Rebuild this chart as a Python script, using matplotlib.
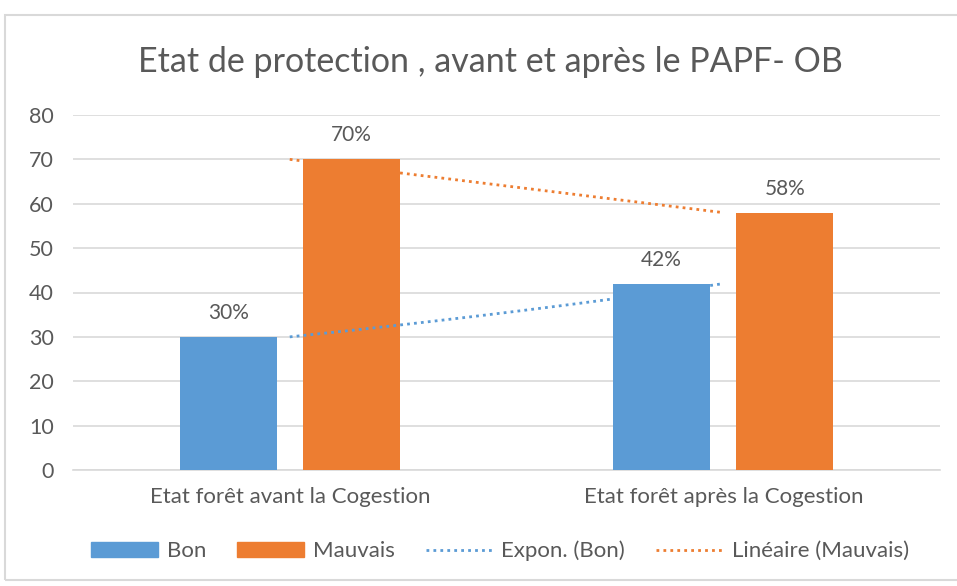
import matplotlib
matplotlib.use("Agg")
import matplotlib.pyplot as plt
from matplotlib.patches import Rectangle, Patch
from matplotlib.lines import Line2D
import numpy as np

categories = ["Etat forêt avant la Cogestion", "Etat forêt après la Cogestion"]
bon = [30, 42]
mauvais = [70, 58]
labels_bon = ["30%", "42%"]
labels_mauvais = ["70%", "58%"]

blue = "#5B9BD5"
orange = "#ED7D31"
txt = "#595959"
grid = "#D9D9D9"

plt.rcParams['font.family'] = ['Lato', 'DejaVu Sans']

fig = plt.figure(figsize=(9.57, 5.86), dpi=100)
ax = fig.add_axes([73/957, 1 - 470/586, (940-73)/957, (470-115)/586])

x = np.arange(len(categories))
w = 0.224
off = 0.142
ax.bar(x - off, bon, w, color=blue, zorder=3)
ax.bar(x + off, mauvais, w, color=orange, zorder=3)

for xi, v, s in zip(x - off, bon, labels_bon):
    ax.text(xi, v + 5.4, s, ha="center", va="center", fontsize=15, color=txt)
for xi, v, s in zip(x + off, mauvais, labels_mauvais):
    ax.text(xi, v + 5.4, s, ha="center", va="center", fontsize=15, color=txt)

# trend lines (two points: linear and exponential both pass through them)
xt = np.linspace(0, 1, 50)
lin = np.polyfit(x, mauvais, 1)
ax.plot(xt, np.polyval(lin, xt), color=orange, lw=2, ls=(0, (1, 1.5)), zorder=4)
ex = np.polyfit(x, np.log(bon), 1)
ax.plot(xt, np.exp(np.polyval(ex, xt)), color=blue, lw=2, ls=(0, (1, 1.5)), zorder=4)

ax.set_xlim(-0.5, 1.5)
ax.set_ylim(0, 80)
ax.set_yticks(range(0, 81, 10))
ax.set_xticks(x)
ax.set_xticklabels(categories)
ax.yaxis.grid(True, color=grid, lw=1.2, zorder=0)
for sp in ["top", "right", "left"]:
    ax.spines[sp].set_visible(False)
ax.spines["bottom"].set_color(grid)
ax.spines["bottom"].set_linewidth(1.2)
ax.tick_params(axis="both", length=0, colors=txt)
ax.tick_params(axis="y", pad=14, labelsize=15.5)
ax.tick_params(axis="x", pad=12, labelsize=16)

fig.text(490/957, 1 - 62/586, "Etat de protection , avant et après le PAPF- OB",
         ha="center", va="center", fontsize=24.5, color=txt)

handles = [
    Patch(color=blue, label="Bon"),
    Patch(color=orange, label="Mauvais"),
    Line2D([], [], color=blue, lw=2, ls=(0, (1, 1.5)), label="Expon. (Bon)"),
    Line2D([], [], color=orange, lw=2, ls=(0, (1, 1.5)), label="Linéaire (Mauvais)"),
]
leg = fig.legend(handles=handles, loc="center", bbox_to_anchor=(500/957, 1 - 551/586),
                 ncol=4, frameon=False, fontsize=16, handlelength=3.0, handleheight=0.7,
                 columnspacing=1.4, handletextpad=0.4, labelcolor=txt)

fig.patches.append(Rectangle((5/957, 1 - 580/586), 1.2, (580-15)/586,
                             transform=fig.transFigure, fill=False,
                             edgecolor="#D9D9D9", lw=1.5))

fig.savefig("out.png", dpi=100)
